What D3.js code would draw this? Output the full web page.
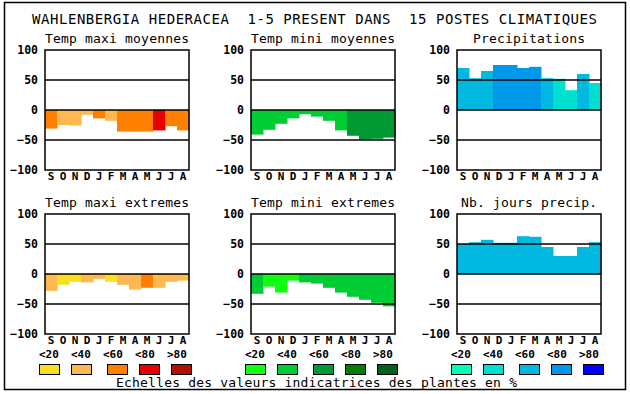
<!DOCTYPE html>
<html>
<head>
<meta charset="utf-8">
<script src="https://cdn.jsdelivr.net/npm/d3@7"></script>
<style>
  body { margin: 0; background: #fff; }
  text { font-family: "DejaVu Sans Mono", monospace; fill: #000; }
  .tick text { font-weight: bold; font-size: 11.5px; }
</style>
</head>
<body>
<div class="chart"></div>
<script>
const svgWidth = 630;
const svgHeight = 394;

// months (september -> august)
const months = ["S", "O", "N", "D", "J", "F", "M", "A", "M", "J", "J", "A"];
const yTicks = [-100, -50, 0, 50, 100];
const scaleLabels = ["<20", "<40", "<60", "<80", ">80"];

// values, class = colour step (0..4)
const maxiMoy = [-31, -25, -26, -8, -14, -18, -36, -36, -36, -34, -27, -34];
const maxiMoyClass = [2, 1, 1, 1, 2, 1, 2, 2, 2, 3, 2, 2];
const miniMoy = [-41, -33, -23, -14, -7, -11, -18, -34, -43, -49, -48, -46];
const miniMoyClass = [1, 1, 1, 1, 1, 1, 1, 1, 2, 2, 2, 2];
const precip = [70, 53, 65, 75, 75, 70, 72, 53, 52, 33, 60, 45];
const precipClass = [2, 2, 2, 3, 3, 3, 3, 2, 1, 1, 2, 1];
const maxiExt = [-28, -18, -13, -14, -8, -13, -18, -26, -23, -23, -13, -11];
const maxiExtClass = [1, 0, 0, 1, 1, 0, 1, 1, 2, 1, 1, 1];
const miniExt = [-33, -21, -31, -11, -14, -16, -23, -31, -38, -43, -48, -54];
const miniExtClass = [1, 0, 0, 0, 1, 1, 1, 1, 1, 1, 1, 1];
const joursPrecip = [50, 53, 57, 52, 52, 63, 62, 45, 30, 30, 45, 53];
const joursPrecipClass = [2, 2, 2, 2, 2, 2, 2, 2, 2, 2, 2, 2];

const hotColors = ["#f8e020", "#ffb850", "#ff8000", "#e80000", "#b01000"];
const greenColors = ["#10ff10", "#00cc33", "#009933", "#007f00", "#006020"];
const blueColors = ["#00ffb8", "#00e0d0", "#00b8e0", "#0098e8", "#0000ff"];

const panelWidth = 144;
const panelHeight = 120;
const colLeft = [45, 251, 457];
const rowTop = [50, 214];

const panels = [
  { title: "Temp maxi moyennes", values: maxiMoy, cls: maxiMoyClass, colors: hotColors, col: 0, row: 0 },
  { title: "Temp mini moyennes", values: miniMoy, cls: miniMoyClass, colors: greenColors, col: 1, row: 0 },
  { title: "Precipitations", values: precip, cls: precipClass, colors: blueColors, col: 2, row: 0 },
  { title: "Temp maxi extremes", values: maxiExt, cls: maxiExtClass, colors: hotColors, col: 0, row: 1 },
  { title: "Temp mini extremes", values: miniExt, cls: miniExtClass, colors: greenColors, col: 1, row: 1 },
  { title: "Nb. jours precip.", values: joursPrecip, cls: joursPrecipClass, colors: blueColors, col: 2, row: 1 }
];

const svg = d3.select(".chart")
  .append("svg")
  .attr("width", svgWidth)
  .attr("height", svgHeight);

// outer frame
svg.append("rect")
  .attr("x", 4.5)
  .attr("y", 2.5)
  .attr("width", 621)
  .attr("height", 387)
  .attr("fill", "none")
  .attr("stroke", "#000")
  .attr("stroke-width", 1.5);

// main title
svg.append("text")
  .attr("x", 32)
  .attr("y", 24)
  .attr("font-size", "14px")
  .attr("textLength", 565)
  .attr("lengthAdjust", "spacing")
  .style("white-space", "pre")
  .text("WAHLENBERGIA HEDERACEA  1-5 PRESENT DANS  15 POSTES CLIMATIQUES");

panels.forEach(function (p) {
  const left = colLeft[p.col];
  const top = rowTop[p.row];

  const x = d3.scaleBand()
    .domain(d3.range(months.length))
    .range([left, left + panelWidth])
    .padding(0);

  const y = d3.scaleLinear()
    .domain([-100, 100])
    .range([top + panelHeight, top]);

  const g = svg.append("g");

  // bars
  g.selectAll("rect.bar")
    .data(p.values)
    .enter()
    .append("rect")
    .attr("class", "bar")
    .attr("x", (d, i) => x(i))
    .attr("width", x.bandwidth() + 0.5)
    .attr("y", d => y(Math.max(0, d)))
    .attr("height", d => Math.abs(y(d) - y(0)))
    .attr("fill", (d, i) => p.colors[p.cls[i]]);

  // grid lines
  g.selectAll("line.grid")
    .data([50, 0, -50])
    .enter()
    .append("line")
    .attr("x1", left)
    .attr("x2", left + panelWidth)
    .attr("y1", d => y(d))
    .attr("y2", d => y(d))
    .attr("stroke", "#000")
    .attr("stroke-width", 1.5);

  // frame
  g.append("rect")
    .attr("x", left)
    .attr("y", top)
    .attr("width", panelWidth)
    .attr("height", panelHeight)
    .attr("fill", "none")
    .attr("stroke", "#000")
    .attr("stroke-width", 1.5);

  // y axis
  const leftAxis = d3.axisLeft(y).tickValues(yTicks).tickSize(0).tickPadding(7);
  g.append("g")
    .attr("transform", `translate(${left}, 0)`)
    .call(leftAxis)
    .call(a => a.select(".domain").remove());

  // month axis
  const bottomAxis = d3.axisBottom(x).tickSize(0).tickPadding(2).tickFormat(i => months[i]);
  g.append("g")
    .attr("transform", `translate(0, ${top + panelHeight})`)
    .call(bottomAxis)
    .call(a => a.select(".domain").remove())
    .call(a => a.selectAll("text").attr("font-size", "11px").style("font-size", "11px"));

  // panel title
  g.append("text")
    .attr("x", left + panelWidth / 2)
    .attr("y", top - 7)
    .attr("text-anchor", "middle")
    .attr("font-size", "13px")
    .attr("textLength", p.title.length * 8)
    .attr("lengthAdjust", "spacing")
    .text(p.title);

  // colour scale legend (one per column)
  if (p.row === 1) {
    const labelOffsets = [-6, 26, 58, 90, 122];
    const boxOffsets = [-6, 26, 62, 94, 126];
    g.selectAll("text.scale")
      .data(scaleLabels)
      .enter()
      .append("text")
      .attr("class", "scale")
      .attr("x", (d, i) => left + labelOffsets[i])
      .attr("y", 358)
      .attr("font-size", "11px")
      .attr("font-weight", "bold")
      .text(d => d);

    g.selectAll("rect.scale")
      .data(p.colors)
      .enter()
      .append("rect")
      .attr("class", "scale")
      .attr("x", (d, i) => left + boxOffsets[i] + 0.5)
      .attr("y", 364.5)
      .attr("width", 20)
      .attr("height", 10)
      .attr("fill", d => d)
      .attr("stroke", "#000")
      .attr("stroke-width", 1);
  }
});

// legend caption
svg.append("text")
  .attr("x", 116)
  .attr("y", 387)
  .attr("font-size", "13px")
  .attr("textLength", 401)
  .attr("lengthAdjust", "spacing")
  .text("Echelles des valeurs indicatrices des plantes en %");
</script>
</body>
</html>
